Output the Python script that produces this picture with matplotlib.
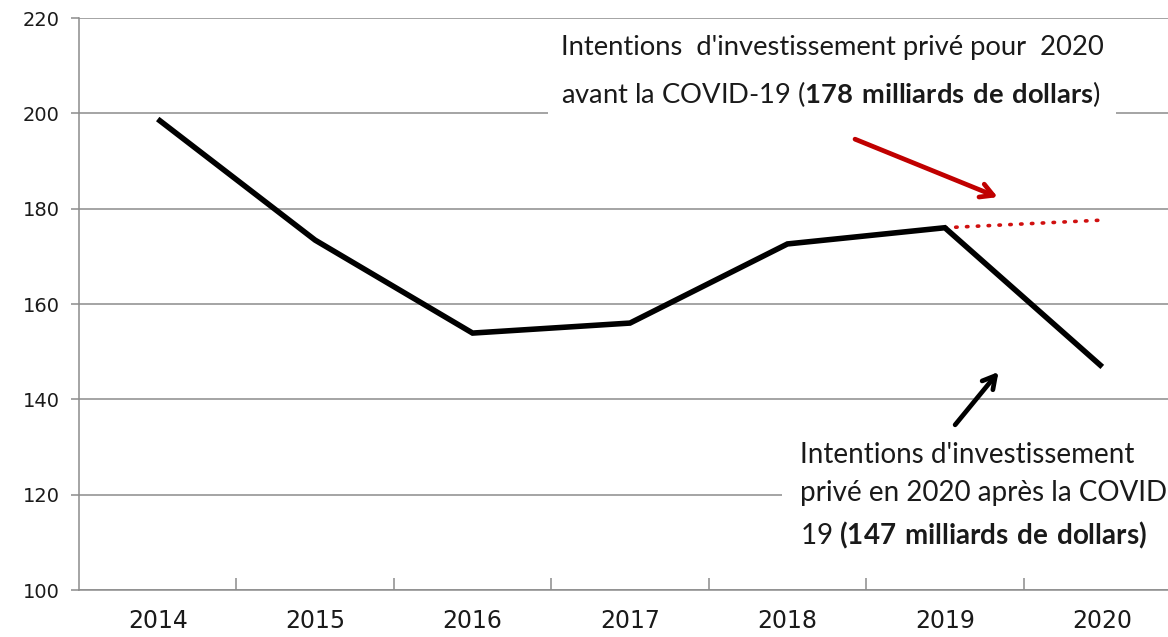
import matplotlib
matplotlib.use("Agg")
import matplotlib.pyplot as plt

years = ["2014", "2015", "2016", "2017", "2018", "2019", "2020"]
investment = [198.8, 173.4, 153.9, 156.0, 172.6, 176.0, 146.8]
pre_covid_years = ["2019", "2020"]
pre_covid_values = [176.0, 177.6]
y_ticks = [100, 120, 140, 160, 180, 200, 220]

text_top = ("Intentions  d'investissement privé pour  2020\n"
            "avant la COVID-19 ($\\mathbf{178\\ milliards\\ de\\ dollars}$)")
text_bottom = ("Intentions d'investissement\n"
               "privé en 2020 après la COVID-\n"
               "19 $\\mathbf{(147\\ milliards\\ de\\ dollars)}$")

plt.rcParams["mathtext.fontset"] = "custom"
plt.rcParams["mathtext.rm"] = "Lato"
plt.rcParams["mathtext.bf"] = "Lato:bold"

W, H = 1168, 637
fig = plt.figure(figsize=(W / 100, H / 100), dpi=100)
fig.patch.set_facecolor("white")
ax = fig.add_axes([79 / W, 47 / H, (1181 - 79) / W, (590 - 18) / H])

xpos = list(range(len(years)))
grid_c = "#8c8c8c"
txt_c = "#1a1a1a"

for v in y_ticks:
    ax.axhline(v, color=grid_c, lw=1.1, zorder=1)

ax.plot(xpos, investment, color="black", lw=4.0, solid_joinstyle="miter",
        solid_capstyle="butt", zorder=4)
px = [years.index(y) for y in pre_covid_years]
ax.plot(px, pre_covid_values, color="#d01010", lw=2.6, linestyle=(0, (0.4, 2.6)),
        dash_capstyle="round", zorder=3)

ax.set_xlim(-0.5, len(years) - 0.5)
ax.set_ylim(100, 220)
ax.set_yticks(y_ticks)
ax.set_xticks(xpos)
ax.set_xticklabels(years)
ax.set_xticks([i + 0.5 for i in range(len(years) - 1)], minor=True)
ax.tick_params(axis="x", which="major", length=0, pad=14, labelsize=17, labelcolor=txt_c)
ax.tick_params(axis="x", which="minor", length=9, direction="in", color=grid_c, width=1.1)
ax.tick_params(axis="y", length=6, direction="out", color=grid_c, width=1.1,
               pad=8, labelsize=14, labelcolor=txt_c)
for lab in ax.get_xticklabels() + ax.get_yticklabels():
    lab.set_family("DejaVu Sans")

for s in ["top", "right"]:
    ax.spines[s].set_visible(False)
for s in ["left", "bottom"]:
    ax.spines[s].set_color(grid_c)
    ax.spines[s].set_linewidth(1.1)

# white text boxes
ax.text(2.559, 208.6, text_top, fontsize=19.7, family="Lato", color=txt_c,
        ha="left", va="center", linespacing=1.8, zorder=5,
        bbox=dict(facecolor="white", edgecolor="none", pad=9))
ax.text(4.083, 119.7, text_bottom, fontsize=20, family="Lato", color=txt_c,
        ha="left", va="center", linespacing=1.57, zorder=5,
        bbox=dict(facecolor="white", edgecolor="none", pad=13))

# arrows
ax.annotate("", xy=(5.352, 182.2), xytext=(4.413, 194.8),
            arrowprops=dict(arrowstyle="->,head_length=0.9,head_width=0.5",
                            color="#c00000", lw=3.4), zorder=6)
ax.annotate("", xy=(5.352, 146.2), xytext=(5.054, 134.2),
            arrowprops=dict(arrowstyle="->,head_length=0.9,head_width=0.5",
                            color="black", lw=3.4), zorder=6)

fig.savefig("out.png", dpi=100, facecolor="white")
